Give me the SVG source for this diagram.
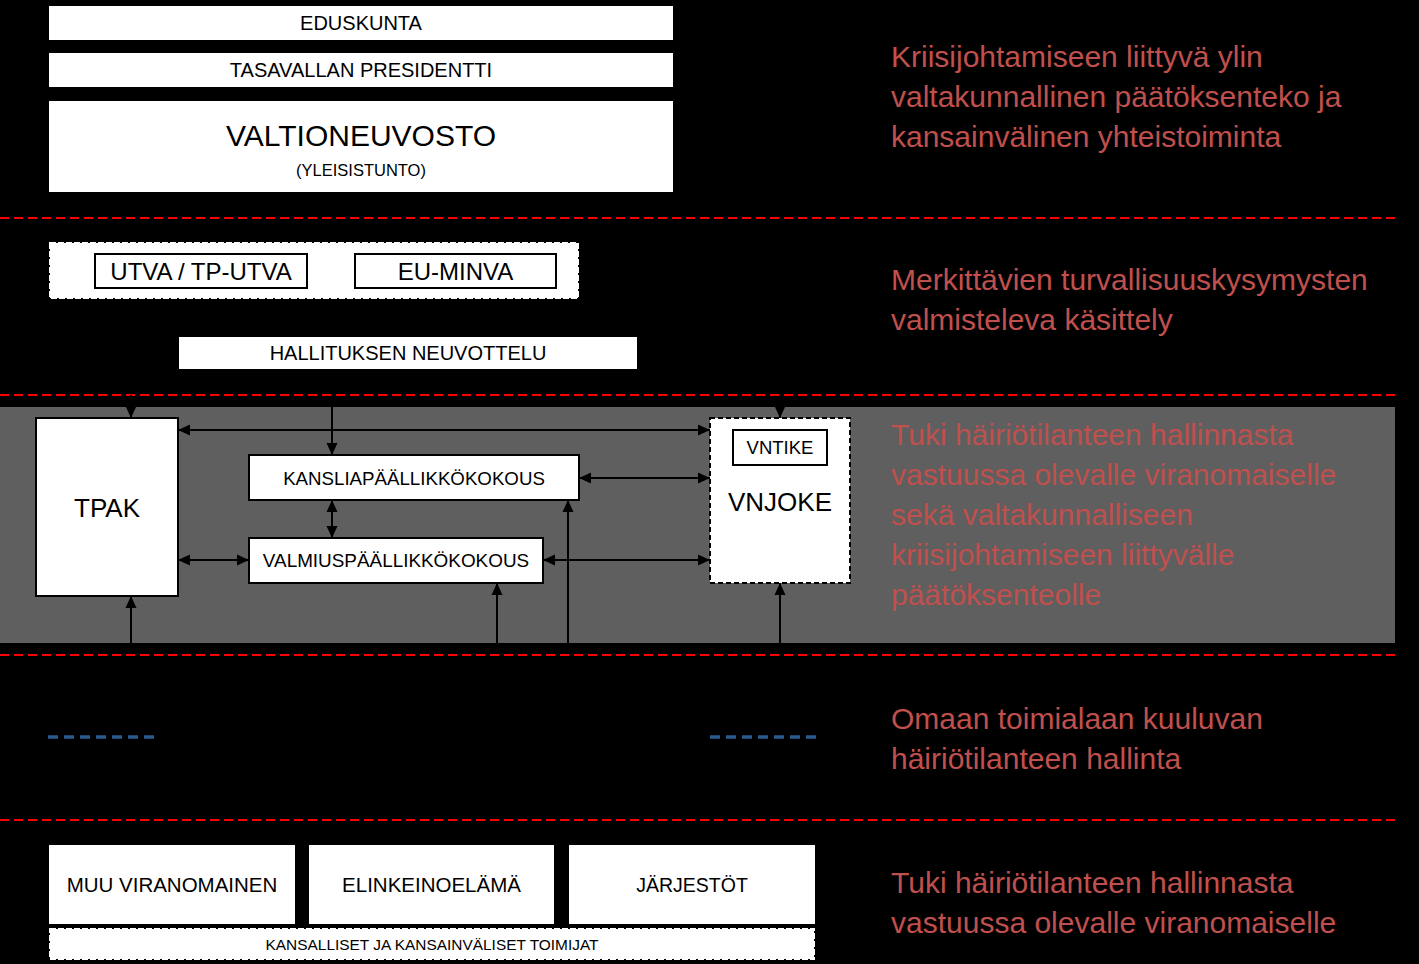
<svg xmlns="http://www.w3.org/2000/svg" width="1419" height="964" viewBox="0 0 1419 964">
<style>
text{font-family:"Liberation Sans",Arial,sans-serif;fill:#000;text-anchor:middle}
.box{fill:#fff}
.sbox{fill:#fff;stroke:#000;stroke-width:2}
.wdash{fill:#fff;stroke:#fff;stroke-width:2;stroke-dasharray:6 2}
.sep{stroke:#ff0000;stroke-width:2;stroke-dasharray:9 5;fill:none}
.blue{stroke:#2a5b8c;stroke-width:3.5;stroke-dasharray:10 6;fill:none}
.lbl{fill:#c0504d;text-anchor:start;font-size:30px}
.c{stroke:#000;stroke-width:2;fill:none}
</style>
<defs>
<marker id="ah" viewBox="0 0 12 12" refX="12" refY="6" markerWidth="12" markerHeight="12" markerUnits="userSpaceOnUse" orient="auto-start-reverse"><path d="M0,0.5 L12,6 L0,11.5 z" fill="#000"/></marker>
</defs>
<rect width="1419" height="964" fill="#000"/>
<rect id="panel" x="0" y="407" width="1395" height="236" fill="#5f5f5f"/>
<g id="separators">
<line class="sep" x1="0" y1="218" x2="1395" y2="218"/>
<line class="sep" x1="0" y1="395" x2="1395" y2="395"/>
<line class="sep" x1="0" y1="655" x2="1395" y2="655"/>
<line class="sep" x1="0" y1="820" x2="1395" y2="820"/>
<line class="blue" x1="48" y1="737" x2="155" y2="737"/>
<line class="blue" x1="710" y1="737" x2="818" y2="737"/>
</g>
<g id="eduskunta"><rect class="box" x="49" y="6" width="624" height="34"/><text x="361" y="30" font-size="20">EDUSKUNTA</text></g>
<g id="presidentti"><rect class="box" x="49" y="53" width="624" height="34"/><text x="361" y="77" font-size="20">TASAVALLAN PRESIDENTTI</text></g>
<g id="valtioneuvosto"><rect class="box" x="49" y="101" width="624" height="91"/><text x="361" y="146" font-size="30">VALTIONEUVOSTO</text><text x="361" y="176" font-size="16.5">(YLEISISTUNTO)</text></g>
<g id="ministerivaliokunnat"><rect class="wdash" x="50" y="243" width="528" height="55"/></g>
<g id="utva"><rect class="sbox" x="95" y="254" width="212" height="34"/><text x="201" y="280" font-size="24">UTVA / TP-UTVA</text></g>
<g id="euminva"><rect class="sbox" x="355" y="254" width="201" height="34"/><text x="455.5" y="280" font-size="24">EU-MINVA</text></g>
<g id="neuvottelu"><rect class="box" x="179" y="337" width="458" height="32"/><text x="408" y="360" font-size="20">HALLITUKSEN NEUVOTTELU</text></g>
<g id="tpak"><rect class="sbox" x="36" y="418" width="142" height="178"/><text x="107" y="517" font-size="26">TPAK</text></g>
<g id="kanslia"><rect class="sbox" x="249" y="455" width="330" height="45"/><text x="414" y="484.5" font-size="18.7">KANSLIAPÄÄLLIKKÖKOKOUS</text></g>
<g id="valmius"><rect class="sbox" x="249" y="538" width="294" height="45"/><text x="396" y="566.5" font-size="18.9">VALMIUSPÄÄLLIKKÖKOKOUS</text></g>
<g id="vnjoke"><rect x="710" y="418" width="140" height="165" fill="#fff" stroke="#000" stroke-width="2" stroke-dasharray="5 3"/><text x="780" y="511" font-size="26">VNJOKE</text></g>
<g id="vntike"><rect class="sbox" x="733" y="430" width="94" height="35"/><text x="780" y="454" font-size="18.5">VNTIKE</text></g>
<g id="muu"><rect class="box" x="49" y="845" width="246" height="79"/><text x="172" y="892" font-size="20.5">MUU VIRANOMAINEN</text></g>
<g id="elinkeino"><rect class="box" x="309" y="845" width="245" height="79"/><text x="431.5" y="892" font-size="20.5">ELINKEINOELÄMÄ</text></g>
<g id="jarjestot"><rect class="box" x="569" y="845" width="246" height="79"/><text x="692" y="892" font-size="19.5">JÄRJESTÖT</text></g>
<g id="toimijat"><rect class="wdash" x="50" y="929" width="764" height="30"/><text x="432" y="950" font-size="15" textLength="333" lengthAdjust="spacingAndGlyphs">KANSALLISET JA KANSAINVÄLISET TOIMIJAT</text></g>
<g id="connectors">
<path class="c" d="M131,395 V418" marker-end="url(#ah)"/>
<path class="c" d="M332,369 V455" marker-end="url(#ah)"/>
<path class="c" d="M178,430 H710" marker-start="url(#ah)" marker-end="url(#ah)"/>
<path class="c" d="M579,478 H710" marker-start="url(#ah)" marker-end="url(#ah)"/>
<path class="c" d="M332,500 V538" marker-start="url(#ah)" marker-end="url(#ah)"/>
<path class="c" d="M178,560 H249" marker-start="url(#ah)" marker-end="url(#ah)"/>
<path class="c" d="M543,560 H710" marker-start="url(#ah)" marker-end="url(#ah)"/>
<path class="c" d="M131,643 V596" marker-end="url(#ah)"/>
<path class="c" d="M497,643 V583" marker-end="url(#ah)"/>
<path class="c" d="M568,643 V500" marker-end="url(#ah)"/>
<path class="c" d="M780,395 V418" marker-end="url(#ah)"/>
<path class="c" d="M780,643 V583" marker-end="url(#ah)"/>
</g>
<g id="labels">
<text class="lbl" x="891" y="67">Kriisijohtamiseen liittyvä ylin</text>
<text class="lbl" x="891" y="107">valtakunnallinen päätöksenteko ja</text>
<text class="lbl" x="891" y="147">kansainvälinen yhteistoiminta</text>
<text class="lbl" x="891" y="290">Merkittävien turvallisuuskysymysten</text>
<text class="lbl" x="891" y="330">valmisteleva käsittely</text>
<text class="lbl" x="891" y="445">Tuki häiriötilanteen hallinnasta</text>
<text class="lbl" x="891" y="485">vastuussa olevalle viranomaiselle</text>
<text class="lbl" x="891" y="525">sekä valtakunnalliseen</text>
<text class="lbl" x="891" y="565">kriisijohtamiseen liittyvälle</text>
<text class="lbl" x="891" y="605">päätöksenteolle</text>
<text class="lbl" x="891" y="729">Omaan toimialaan kuuluvan</text>
<text class="lbl" x="891" y="769">häiriötilanteen hallinta</text>
<text class="lbl" x="891" y="893">Tuki häiriötilanteen hallinnasta</text>
<text class="lbl" x="891" y="933">vastuussa olevalle viranomaiselle</text>
</g>
</svg>
